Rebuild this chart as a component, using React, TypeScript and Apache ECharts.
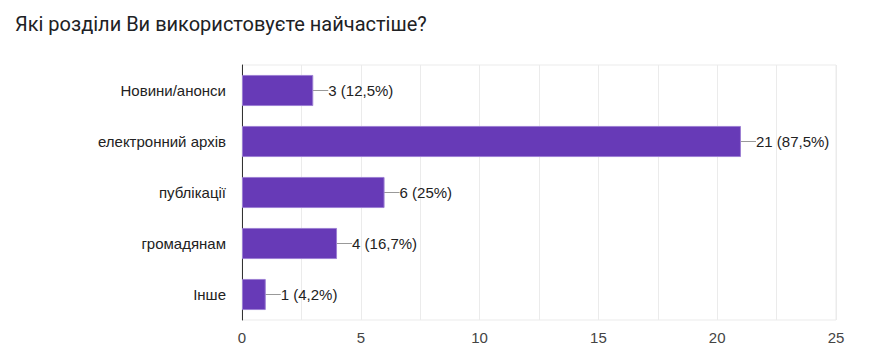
import React, { useEffect, useRef } from "react";
import * as echarts from "echarts";

const title = "Які розділи Ви використовуєте найчастіше?";
const categories = ["Новини/анонси", "електронний архів", "публікації", "громадянам", "Інше"];
const counts = [3, 21, 6, 4, 1];
const percents = ["12,5%", "87,5%", "25%", "16,7%", "4,2%"];
const xTicks = [0, 5, 10, 15, 20, 25];

export default function App() {
  const ref = useRef<HTMLDivElement>(null);
  useEffect(() => {
    if (!ref.current) return;
    const chart = echarts.init(ref.current, null, { renderer: "svg" });
    chart.setOption({
      animation: false,
      title: {
        text: title,
        left: 10,
        top: 9,
        textStyle: { fontFamily: "Roboto", fontSize: 20, fontWeight: "normal", color: "#202124" },
      },
      grid: {
        left: 242,
        right: 43,
        top: 65,
        bottom: 43,
        show: true,
        borderColor: "#ebebeb",
        borderWidth: 1,
      },
      xAxis: {
        type: "value",
        min: 0,
        max: 25,
        interval: 2.5,
        axisLine: { show: false },
        axisTick: { show: false },
        splitLine: { lineStyle: { color: "#ebebeb", width: 1 } },
        axisLabel: {
          fontFamily: "Liberation Sans",
          fontSize: 15,
          color: "#444444",
          margin: 10,
          formatter: (v: number) => (xTicks.includes(v) ? String(v) : ""),
        },
      },
      yAxis: {
        type: "category",
        data: categories,
        inverse: true,
        axisLine: { show: true, lineStyle: { color: "#333333", width: 1 } },
        axisTick: { show: false },
        axisLabel: {
          fontFamily: "Liberation Sans",
          fontSize: 15,
          color: "#222222",
          margin: 16,
        },
      },
      series: [
        {
          type: "bar",
          data: counts,
          barCategoryGap: "39%",
          itemStyle: { color: "#673ab7", borderColor: "#9c7fd3", borderWidth: 1 },
          label: {
            show: true,
            position: "right",
            distance: 0,
            fontFamily: "Liberation Sans",
            fontSize: 15,
            color: "#222222",
            formatter: (p: any) => `${counts[p.dataIndex]} (${percents[p.dataIndex]})`,
          },
          labelLayout: { dx: 15 },
          labelLine: { show: true, length2: 0, lineStyle: { color: "#999999", width: 1 } },
        },
      ],
    });
    return () => chart.dispose();
  }, []);
  return <div ref={ref} style={{ width: 879, height: 363, margin: -8 }} />;
}
